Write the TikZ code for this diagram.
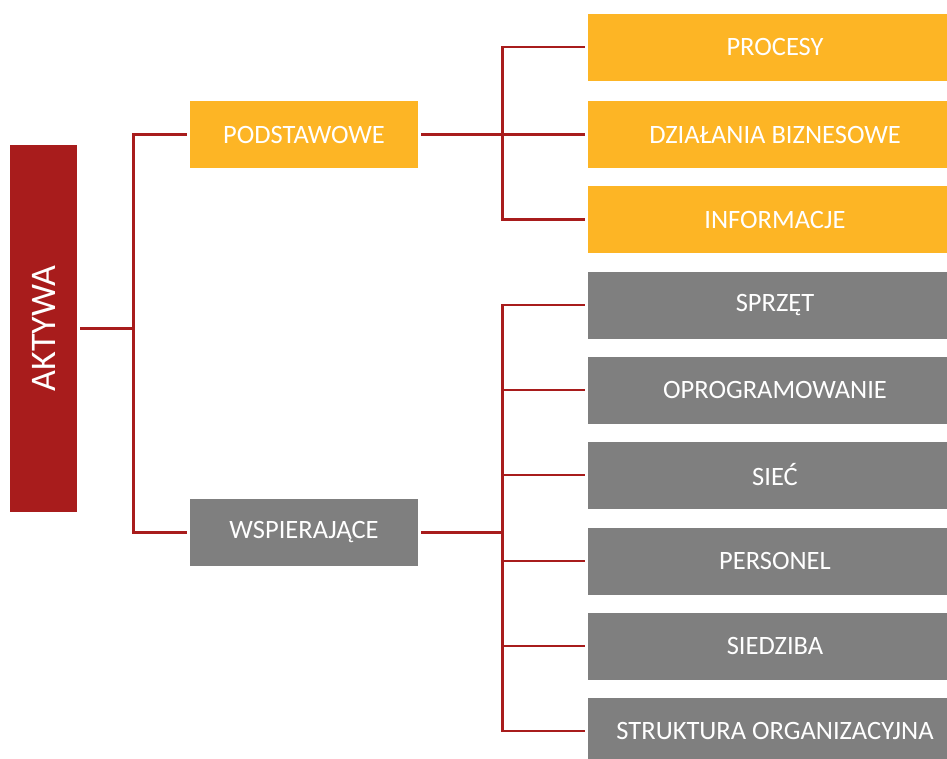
\documentclass[tikz,border=0pt]{standalone}
\usepackage{fontspec}
\setmainfont{Carlito}
\definecolor{cred}{HTML}{A81C1C}
\definecolor{corange}{HTML}{FDB525}
\definecolor{cgray}{HTML}{7F7F7F}
\begin{document}
\begin{tikzpicture}[x=1pt,y=-1pt,
  boxbase/.style={rectangle, inner sep=0pt, text=white, font=\fontsize{26.5}{30}\selectfont},
  obox/.style={boxbase, fill=corange},
  gbox/.style={boxbase, fill=cgray},
  leftbox/.style={minimum width=228pt, minimum height=67pt},
  rightbox/.style={minimum width=374pt, minimum height=67pt},
  conn/.style={draw=cred, line width=2.2pt},
  endgap/.style={shorten >=3pt},
  startgap/.style={shorten <=3pt}]
\useasboundingbox (0,0) rectangle (947,758);
\clip (0,0) rectangle (947,758);
\node[boxbase, fill=cred, minimum width=67pt, minimum height=367pt] (a) at (43.5,328.5) {};
\node[text=white, font=\fontsize{36}{40}\selectfont, rotate=90] (at) at (a.center) {AKTYWA};
\node[obox, leftbox] (p) at (304,134.5) {PODSTAWOWE};
\node[gbox, leftbox] (w) at (304,532.5) {WSPIERAJĄCE};
\node[obox, rightbox] (r1) at (775,47) {PROCESY};
\node[obox, rightbox] (r2) at (775,134.5) {DZIAŁANIA BIZNESOWE};
\node[obox, rightbox] (r3) at (775,219.5) {INFORMACJE};
\node[gbox, rightbox] (s1) at (775,305) {SPRZĘT};
\node[gbox, rightbox] (s2) at (775,390) {OPROGRAMOWANIE};
\node[gbox, rightbox] (s3) at (775,475) {SIEĆ};
\node[gbox, rightbox] (s4) at (775,561) {PERSONEL};
\node[gbox, rightbox] (s5) at (775,646) {SIEDZIBA};
\node[gbox, rightbox] (s6) at (775,731) {STRUKTURA ORGANIZACYJNA};
\coordinate (j1) at (133.5,328.5);
\coordinate (j2) at (502.5,134.5);
\coordinate (j3) at (502.5,532.5);
\draw[conn, startgap] (a.east) -- (j1);
\draw[conn, endgap] (j1) |- (p.west);
\draw[conn, endgap] (j1) |- (w.west);
\draw[conn, startgap] (p.east) -- (j2);
\foreach \n in {r1,r2,r3} \draw[conn, endgap] (j2) |- (\n.west);
\draw[conn, startgap] (w.east) -- (j3);
\foreach \n in {s1,s2,s3,s4,s5,s6} \draw[conn, endgap] (j3) |- (\n.west);
\end{tikzpicture}
\end{document}
